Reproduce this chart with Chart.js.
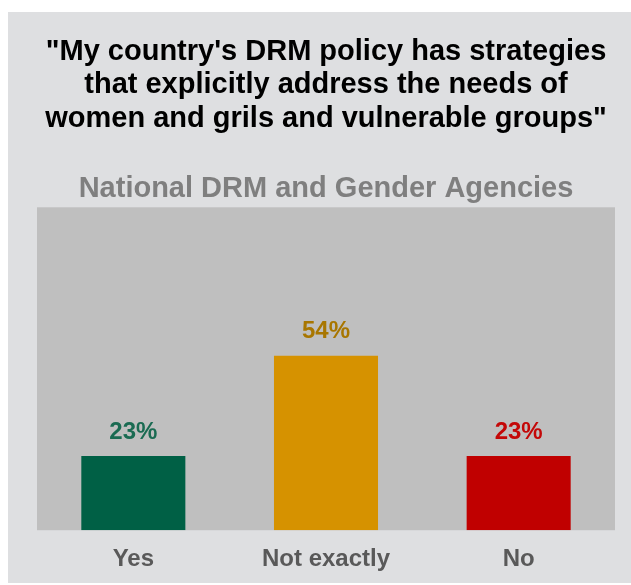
<!DOCTYPE html>
<html>
<head>
<meta charset="utf-8">
<script src="https://cdn.jsdelivr.net/npm/chart.js@4"></script>
<style>
  html, body { margin: 0; padding: 0; background: #ffffff; }
  #wrap { width: 631px; height: 585px; }
</style>
</head>
<body>
<div id="wrap"><canvas id="drmChart" width="631" height="585"></canvas></div>
<script>
// Survey answers (share of respondents, %)
const categories = ['Yes', 'Not exactly', 'No'];
const shares = [23, 54, 23];
const barColors = ['#006045', '#d69200', '#c00000'];
const labelColors = ['#1a6b52', '#a87600', '#c40808'];

const titleLines = [
  '"My country\'s DRM policy has strategies',
  'that explicitly address the needs of',
  'women and grils and vulnerable groups"'
];
const subtitleText = 'National DRM and Gender Agencies';

const FONT = '"Liberation Sans", Arial, sans-serif';

// grey card behind everything + darker plot area
const backdrop = {
  id: 'backdrop',
  beforeDraw(chart) {
    const { ctx, chartArea } = chart;
    ctx.save();
    ctx.fillStyle = '#ffffff';
    ctx.fillRect(0, 0, chart.width, chart.height);
    ctx.fillStyle = '#dedfe1';
    ctx.fillRect(8, 12, chart.width - 8, chart.height - 14);
    ctx.fillStyle = '#bfbfbf';
    ctx.fillRect(chartArea.left, chartArea.top, chartArea.right - chartArea.left, chartArea.bottom - chartArea.top);
    ctx.restore();
  }
};

// percentage labels above each bar
const valueLabels = {
  id: 'valueLabels',
  afterDatasetsDraw(chart) {
    const { ctx } = chart;
    const meta = chart.getDatasetMeta(0);
    ctx.save();
    ctx.font = 'bold 24px ' + FONT;
    ctx.textAlign = 'center';
    ctx.textBaseline = 'middle';
    meta.data.forEach((bar, i) => {
      ctx.fillStyle = labelColors[i];
      ctx.fillText(shares[i] + '%', bar.x, bar.y - 24);
    });
    ctx.restore();
  }
};

new Chart(document.getElementById('drmChart'), {
  type: 'bar',
  data: {
    labels: categories,
    datasets: [{
      data: shares,
      backgroundColor: barColors,
      borderWidth: 0,
      categoryPercentage: 1,
      barPercentage: 0.54
    }]
  },
  options: {
    responsive: false,
    animation: false,
    layout: { padding: { left: 37, right: 16, top: 0, bottom: -4 } },
    plugins: {
      legend: { display: false },
      tooltip: { enabled: false },
      title: {
        display: true,
        text: titleLines,
        color: '#000000',
        font: { family: FONT, size: 29, weight: 'bold', lineHeight: 1.155 },
        padding: { top: 35, bottom: 36 }
      },
      subtitle: {
        display: true,
        text: subtitleText,
        color: '#7f7f7f',
        font: { family: FONT, size: 29, weight: 'bold', lineHeight: 1.2 },
        padding: { top: 0, bottom: 1 }
      }
    },
    scales: {
      x: {
        grid: { display: false, drawTicks: false },
        border: { display: false },
        ticks: {
          color: '#595959',
          padding: 15,
          font: { family: FONT, size: 24, weight: 'bold' }
        }
      },
      y: {
        display: false,
        min: 0,
        max: 100
      }
    }
  },
  plugins: [backdrop, valueLabels]
});
</script>
</body>
</html>
